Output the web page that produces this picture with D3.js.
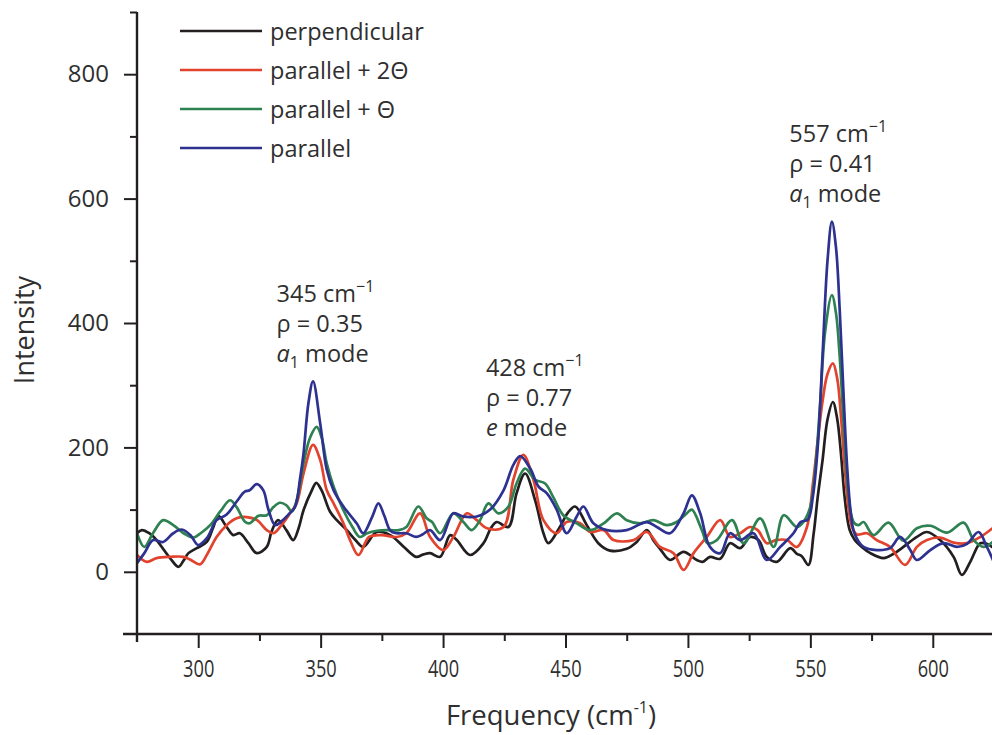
<!DOCTYPE html>
<html>
<head>
<meta charset="utf-8">
<script src="https://cdn.jsdelivr.net/npm/d3@7"></script>
<style>
  html, body { margin: 0; padding: 0; background: #fff; }
  svg { display: block; font-family: "Open Sans", "Noto Sans", sans-serif; }
</style>
</head>
<body>
<svg id="chart" width="992" height="735"></svg>
<script>
// Raman spectra: intensity vs frequency (cm^-1), four polarisation settings.

const perpendicularFreq = [275, 277, 280, 283, 286, 288.5, 291.9, 294, 296, 299.4, 303.5, 306, 308.2, 311.6, 314.3, 317, 320.5, 323.9, 328, 330, 332.6, 336, 338.8, 341, 343, 346.4, 348.2, 350.4, 353.8, 356.6, 360.7, 364, 367.4, 372.9, 378.4, 384, 389, 392, 394.7, 398.8, 402.9, 405.6, 411, 416.5, 419.5, 421.9, 426.7, 430, 433.5, 437.6, 441, 443, 447.7, 451, 453.9, 458.7, 463.4, 468.2, 475, 479.1, 483.2, 486, 488.6, 492.7, 498.2, 503.6, 506, 509, 513.2, 517.2, 521.3, 525.4, 528.8, 532.2, 536.3, 541.8, 544.5, 546.5, 549.2, 551.3, 553, 555, 557, 559.2, 561, 562.5, 564, 566, 568, 571, 574.5, 579.9, 584, 588, 593.5, 597.6, 603, 608.5, 611.9, 615.3, 619.4, 622, 625];
const perpendicularInt = [62, 67, 62, 51, 35, 22, 8, 18, 30, 38, 48, 70, 90, 72, 59, 62, 46, 30, 40, 65, 83, 67, 51, 70, 99, 131, 143, 131, 97, 83, 67, 52, 40, 64, 59, 40, 24, 28, 30, 24, 59, 51, 27, 46, 70, 80, 72, 126, 158, 115, 62, 46, 72, 95, 105, 75, 46, 34, 37, 48, 67, 50, 37, 19, 32, 19, 16, 24, 21, 46, 38, 56, 51, 24, 16, 38, 29, 25, 11, 60, 120, 180, 245, 273, 245, 190, 120, 68, 52, 40, 30, 22, 29, 40, 56, 64, 51, 24, -5, 16, 46, 45, 38];

const parallel2ThetaFreq = [275, 279, 283, 288.5, 294, 297, 300.7, 303.5, 307.5, 311.6, 315.7, 319.8, 324, 328, 330.7, 334, 337.5, 340.2, 343, 346.9, 349.8, 352.5, 355.3, 359.3, 362, 365.4, 369.8, 375, 381, 385, 390.6, 394.7, 400.1, 404.2, 409.7, 413.8, 417.9, 424.7, 428.7, 432.8, 436.9, 441, 446.4, 450.5, 456, 460.1, 465.6, 469.6, 477.8, 483.2, 488.6, 494.1, 498.2, 502.3, 507.7, 513.2, 517.2, 521.3, 525.4, 528.5, 532.2, 536, 540.4, 544.5, 548.6, 551, 553, 555, 557, 559.2, 561, 562.5, 564, 565.5, 567, 569, 573.1, 577.1, 582.5, 588.7, 593.5, 597.6, 603, 608.5, 613.9, 619.4, 625];
const parallel2ThetaInt = [27, 16, 22, 24, 24, 19, 12, 27, 56, 75, 86, 88, 83, 67, 62, 75, 94, 110, 158, 204, 180, 131, 110, 78, 51, 27, 56, 59, 56, 62, 94, 56, 35, 56, 94, 83, 70, 72, 148, 188, 148, 83, 62, 80, 78, 64, 67, 51, 51, 64, 40, 30, 3, 30, 56, 83, 56, 62, 72, 67, 46, 51, 51, 40, 72, 140, 210, 275, 318, 335, 310, 250, 170, 105, 72, 60, 62, 51, 40, 11, 40, 51, 55, 47, 46, 56, 72];

const parallelThetaFreq = [275, 278, 281.5, 285.7, 289.8, 294, 298, 301, 304.9, 309, 313, 315.7, 319, 321, 324.6, 328, 330.7, 333.4, 336, 338.2, 340.2, 343, 345.7, 348.4, 350.4, 352.5, 355.3, 359.3, 363, 366, 369, 373, 378.4, 382, 385, 389.9, 393.3, 395.5, 398.8, 404.2, 408.3, 411.7, 415.1, 418.5, 422.6, 426.7, 430, 433.5, 437.6, 441.7, 445, 449.1, 454.6, 460.1, 465.6, 471, 475, 480.4, 485.9, 491.4, 495.4, 499.5, 501.6, 505.7, 508, 511.8, 518, 522.7, 529.5, 535, 539.1, 544.5, 547.3, 550, 552, 554, 556, 558.8, 560.5, 562, 563.5, 565, 566.5, 568, 569.7, 571.7, 575.8, 581.9, 588, 593.5, 599, 605.8, 612.6, 616.7, 620.8, 625];
const parallelThetaInt = [62, 40, 62, 83, 75, 62, 55, 62, 75, 97, 115, 104, 81, 78, 90, 91, 104, 111, 107, 97, 115, 174, 216, 233, 216, 174, 137, 99, 72, 56, 62, 66, 67, 67, 72, 105, 86, 80, 62, 94, 80, 67, 83, 110, 94, 105, 142, 166, 148, 142, 120, 91, 78, 67, 78, 94, 83, 78, 83, 75, 80, 94, 100, 67, 46, 51, 83, 46, 86, 40, 91, 72, 81, 105, 165, 270, 385, 445, 415, 345, 245, 150, 95, 78, 75, 80, 59, 79, 50, 70, 74, 63, 79, 51, 40, 50];

const parallelFreq = [275, 278, 281.6, 285.7, 289.8, 293.3, 296.8, 300, 303.5, 307.5, 311.6, 315.7, 319, 321, 323.9, 326.6, 328.6, 331.4, 334, 336.8, 339.5, 341.6, 343, 345, 346.9, 349.8, 352.5, 355.3, 359.3, 364.7, 367.4, 371, 373.6, 376, 378.5, 381, 385, 389, 391.6, 394.7, 398.8, 404.2, 408, 413.8, 419.2, 424.7, 428.7, 431.5, 435.6, 439, 442.4, 446.4, 450.5, 454.6, 457.3, 461.4, 466.9, 475, 483.2, 487.3, 492.7, 498.2, 501.6, 505, 509, 513.2, 517.2, 521.3, 526.8, 532.2, 537.7, 543.1, 546, 549, 551, 553, 555, 557, 558.8, 560.5, 562, 563.5, 565, 566.5, 568, 571.7, 577.1, 582.5, 586.7, 590.8, 593.5, 599, 604.4, 609.9, 614, 618.7, 622.1, 625];
const parallelInt = [14, 30, 51, 48, 62, 68, 59, 43, 54, 83, 92, 113, 129, 131, 141, 131, 101, 75, 81, 92, 104, 150, 190, 271, 306, 239, 164, 131, 105, 78, 62, 88, 110, 90, 66, 62, 62, 56, 60, 67, 51, 94, 89, 89, 100, 131, 172, 186, 166, 137, 126, 100, 62, 89, 105, 78, 67, 67, 80, 72, 62, 94, 123, 94, 40, 30, 62, 51, 62, 19, 40, 62, 80, 84, 120, 200, 350, 500, 563, 520, 420, 290, 170, 95, 62, 40, 35, 38, 56, 35, 19, 35, 46, 40, 45, 64, 40, 15];

// Legend / drawing order (legend top to bottom)
const seriesNames = ["perpendicular", "parallel + 2\u0398", "parallel + \u0398", "parallel"];
const seriesColors = ["#231f20", "#e2432e", "#2e8150", "#2d3190"];
const seriesFreqs = [perpendicularFreq, parallel2ThetaFreq, parallelThetaFreq, parallelFreq];
const seriesInts = [perpendicularInt, parallel2ThetaInt, parallelThetaInt, parallelInt];

const xMajorTicks = [300, 350, 400, 450, 500, 550, 600];
const xMinorTicks = [325, 375, 425, 475, 525, 575];
const yMajorTicks = [0, 200, 400, 600, 800];
const yMinorTicks = [100, 300, 500, 700, 900];

// Peak annotations: wavenumber, depolarisation ratio, mode symbol
const peakWavenumbers = ["345", "428", "557"];
const peakRatios = ["0.35", "0.77", "0.41"];
const peakModes = ["a1", "e", "a1"];

const svg = d3.select("#chart");
const ink = "#231f20";
const textInk = "#2f2f2f";

const x = d3.scaleLinear().domain([275, 625]).range([137, 994]);
const y = d3.scaleLinear().domain([-100, 900]).range([634, 12]);

// Spectra
const line = d3.line()
  .x(d => x(d[0]))
  .y(d => y(d[1]))
  .curve(d3.curveCatmullRom.alpha(0.5));

svg.append("g").selectAll("path")
  .data(d3.range(seriesNames.length))
  .join("path")
  .attr("fill", "none")
  .attr("stroke", i => seriesColors[i])
  .attr("stroke-width", 2.7)
  .attr("stroke-linejoin", "round")
  .attr("d", i => line(seriesFreqs[i].map((f, k) => [f, seriesInts[i][k]])));

// Axes
const xAxisMajor = d3.axisBottom(x).tickValues(xMajorTicks).tickSize(14).tickPadding(12).tickFormat(d3.format("d"));
const xAxisMinor = d3.axisBottom(x).tickValues(xMinorTicks).tickSize(7).tickFormat("");
const yAxisMajor = d3.axisLeft(y).tickValues(yMajorTicks).tickSize(13).tickPadding(15).tickFormat(d3.format("d"));
const yAxisMinor = d3.axisLeft(y).tickValues(yMinorTicks).tickSize(7).tickFormat("");

function styleAxis(g) {
  g.select(".domain").remove();
  g.selectAll("line").attr("stroke", ink).attr("stroke-width", 2);
  g.selectAll("text").attr("fill", textInk).attr("font-family", "'Open Sans', sans-serif");
}

const xBase = y(-100);
const yBase = x(275);

const gx1 = svg.append("g").attr("transform", `translate(0,${xBase})`).call(xAxisMajor).call(styleAxis);
gx1.selectAll("text").attr("font-size", 24).attr("transform", "scale(0.76,1)");
svg.append("g").attr("transform", `translate(0,${xBase})`).call(xAxisMinor).call(styleAxis);

const gy1 = svg.append("g").attr("transform", `translate(${yBase},0)`).call(yAxisMajor).call(styleAxis);
gy1.selectAll("text").attr("font-size", 24);
svg.append("g").attr("transform", `translate(${yBase},0)`).call(yAxisMinor).call(styleAxis);

// axis lines, each running a little past the corner
svg.append("line")
  .attr("x1", yBase - 14).attr("x2", 992)
  .attr("y1", xBase).attr("y2", xBase)
  .attr("stroke", ink).attr("stroke-width", 2.4);
svg.append("line")
  .attr("x1", yBase).attr("x2", yBase)
  .attr("y1", y(900)).attr("y2", xBase + 8)
  .attr("stroke", ink).attr("stroke-width", 2.4);

// Axis titles
const xt = svg.append("text")
  .attr("x", 551).attr("y", 725)
  .attr("text-anchor", "middle")
  .attr("font-size", 27.5)
  .attr("fill", textInk);
xt.append("tspan").text("Frequency (cm");
xt.append("tspan").attr("dy", -12).attr("font-size", 16).text("-1");
xt.append("tspan").attr("dy", 12).text(")");

svg.append("text")
  .attr("transform", "translate(34,330) rotate(-90)")
  .attr("text-anchor", "middle")
  .attr("font-size", 27)
  .attr("fill", textInk)
  .text("Intensity");

// Legend
const legend = svg.append("g");
seriesNames.forEach((name, i) => {
  const cy = 31 + i * 39;
  legend.append("line")
    .attr("x1", 180).attr("x2", 262)
    .attr("y1", cy).attr("y2", cy)
    .attr("stroke", seriesColors[i]).attr("stroke-width", 2.6);
  legend.append("text")
    .attr("x", 270).attr("y", cy + 8.5)
    .attr("font-size", 23.5)
    .attr("fill", textInk)
    .text(name);
});

// Peak annotations (left edge in cm^-1, first baseline in intensity units)
const annotationAnchors = [[332, 434], [417.5, 315], [541.4, 691]];
peakWavenumbers.forEach((wn, i) => {
  const ax = x(annotationAnchors[i][0]);
  const ay = y(annotationAnchors[i][1]);
  const g = svg.append("g").attr("fill", textInk).attr("font-size", 23.5);
  const t1 = g.append("text").attr("x", ax).attr("y", ay);
  t1.append("tspan").text(wn + " cm");
  t1.append("tspan").attr("dy", -10).attr("font-size", 16).text("\u22121");
  g.append("text").attr("x", ax).attr("y", ay + 30.5).text("\u03c1 = " + peakRatios[i]);
  const t3 = g.append("text").attr("x", ax).attr("y", ay + 60);
  const mode = peakModes[i];
  t3.append("tspan").attr("font-style", "italic").text(mode[0]);
  if (mode.length > 1) {
    t3.append("tspan").attr("dy", 6).attr("font-size", 16).text(mode.slice(1));
    t3.append("tspan").attr("dy", -6).text(" mode");
  } else {
    t3.append("tspan").text(" mode");
  }
});
</script>
</body>
</html>
